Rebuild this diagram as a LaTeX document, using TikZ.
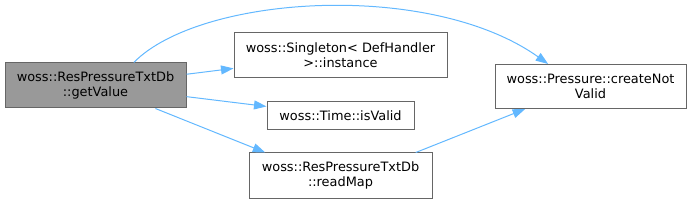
\documentclass[tikz,border=0pt]{standalone}
\usepackage{fontspec}
\setmainfont{DejaVu Sans}
\usetikzlibrary{arrows.meta}
\definecolor{edgeblue}{HTML}{63B8FF}
\definecolor{boxborder}{HTML}{666666}
\definecolor{boxfill}{HTML}{999999}
\tikzset{
  fn/.style={draw=boxborder, line width=1pt, fill=white, align=center, inner sep=0pt,
    font=\fontsize{12.9}{15}\selectfont},
  cur/.style={fn, fill=boxfill},
  call/.style={draw=edgeblue, line width=1pt, -{Triangle[length=12.5pt,width=9pt]}}
}
\begin{document}
\begin{tikzpicture}[x=1pt,y=-1pt]
\useasboundingbox (0,0) rectangle (691,203);
\node[cur, minimum width=181pt, minimum height=45pt] (gv) at (95.5,85.5) {woss::ResPressureTxtDb\\::getValue};
\node[fn, minimum width=213pt, minimum height=45pt] (sg) at (340.5,55.2) {woss::Singleton< DefHandler\\>::instance};
\node[fn, minimum width=147pt, minimum height=28pt] (tv) at (340.5,115.5) {woss::Time::isValid};
\node[fn, minimum width=183pt, minimum height=45pt] (rm) at (340.5,175.5) {woss::ResPressureTxtDb\\::readMap};
\node[fn, minimum width=191pt, minimum height=44pt] (cn) at (590.5,86.5) {woss::Pressure::createNot\\Valid};
\draw[call] (gv.31) .. controls (200,-5) and (430,-20) .. (cn.152);
\draw[call] (gv) -- (sg);
\draw[call] (gv) -- (tv);
\draw[call] (gv.-21.7) -- (rm.163.4);
\draw[call] (rm.17.2) -- (cn.199);
\end{tikzpicture}
\end{document}
